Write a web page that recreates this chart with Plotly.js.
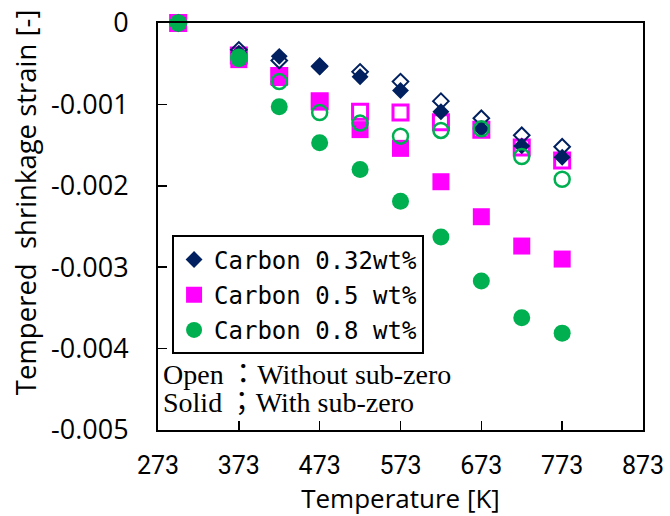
<!DOCTYPE html>
<html>
<head>
<meta charset="utf-8">
<script src="https://cdn.plot.ly/plotly-3.0.1.min.js"></script>
<style>html,body{margin:0;padding:0;background:#fff;}</style>
</head>
<body>
<div id="chart" style="width:670px;height:516px;"></div>
<script>
// Temperatures [K]
const temps = [298, 373, 423, 473, 523, 573, 623, 673, 723, 773];
// Carbon 0.32 wt%
const c032Open  = [0, -0.00033, -0.00046, -0.00053, -0.00060, -0.00072, -0.00096, -0.00117, -0.00138, -0.00152];
const c032Solid = [0, -0.00037, -0.00041, -0.00054, -0.00066, -0.00083, -0.00109, -0.00130, -0.00151, -0.00165];
// Carbon 0.5 wt%
const c05Open   = [0, -0.00040, -0.00065, -0.00096, -0.00109, -0.00110, -0.00122, -0.00131, -0.00153, -0.00169];
const c05Solid  = [0, -0.00045, -0.00067, -0.00097, -0.00131, -0.00154, -0.00195, -0.00238, -0.00274, -0.00290];
// Carbon 0.8 wt%
const c08Open   = [0, -0.00042, -0.00072, -0.00110, -0.00123, -0.00139, -0.00132, -0.00130, -0.00164, -0.00192];
const c08Solid  = [0, -0.00044, -0.00103, -0.00147, -0.00180, -0.00219, -0.00263, -0.00317, -0.00362, -0.00381];

const seriesNames = ['Carbon 0.32wt%', 'Carbon 0.5\u00a0wt%', 'Carbon 0.8\u00a0wt%'];
const yTickVals = [0, -0.001, -0.002, -0.003, -0.004, -0.005];
const yTickText = ['0', '-0.001', '-0.002', '-0.003', '-0.004', '-0.005'];
const xTickVals = [273, 373, 473, 573, 673, 773, 873];
const xTickText = ['273', '373', '473', '573', '673', '773', '873'];
const xTitle = 'Temperature [K]';
const yTitle = 'Tempered\u00a0 shrinkage strain [-]';
const noteOpen = 'Open\u2009：Without sub-zero';
const noteSolid = 'Solid\u2009；With sub-zero';

const NAVY = '#002060', MAG = '#FF00FF', GRN = '#00B050';

function openTrace(y, sym, color, size, lw, grp) {
  return {x: temps, y: y, type: 'scatter', mode: 'markers', showlegend: false,
    legendgroup: grp, cliponaxis: false, hoverinfo: 'x+y',
    marker: {symbol: sym, size: size, color: color, line: {color: color, width: lw}}};
}
function solidTrace(y, sym, color, size, name, grp, rank) {
  return {x: temps, y: y, type: 'scatter', mode: 'markers', name: name,
    legendgroup: grp, legendrank: rank, cliponaxis: false, hoverinfo: 'x+y',
    marker: {symbol: sym, size: size, color: color, line: {width: 0}}};
}

const data = [
  openTrace(c05Open, 'square-open', MAG, 15, 3, 'g2'),
  solidTrace(c05Solid, 'square', MAG, 17, seriesNames[1], 'g2', 2),
  openTrace(c032Open, 'diamond-open', NAVY, 12, 2, 'g1'),
  solidTrace(c032Solid, 'diamond', NAVY, 13, seriesNames[0], 'g1', 1),
  openTrace(c08Open, 'circle-open', GRN, 15, 2.5, 'g3'),
  solidTrace(c08Solid, 'circle', GRN, 17, seriesNames[2], 'g3', 3)
];

const sans = '"Open Sans", "Noto Sans", sans-serif';
const serif = '"Liberation Serif", "Times New Roman", "Noto Sans CJK JP", serif';
const layout = {
  width: 670, height: 516,
  margin: {l: 158, r: 27, t: 23, b: 86, pad: 0},
  paper_bgcolor: '#fff', plot_bgcolor: '#fff',
  showlegend: true,
  xaxis: {
    range: [273, 873], tickmode: 'array', tickvals: xTickVals, ticktext: xTickText,
    ticks: 'inside', ticklen: 9, tickwidth: 1.5, tickcolor: '#000',
    showline: true, linecolor: '#000', linewidth: 2, mirror: true,
    showgrid: false, zeroline: false,
    tickfont: {family: 'Roboto, sans-serif', size: 25, color: '#000'},
    ticklabelstandoff: 12,
    title: {text: xTitle, font: {family: sans, size: 26, color: '#000'}, standoff: 4}
  },
  yaxis: {
    range: [-0.005, 0], tickmode: 'array', tickvals: yTickVals, ticktext: yTickText,
    ticks: 'inside', ticklen: 9, tickwidth: 1.5, tickcolor: '#000',
    showline: true, linecolor: '#000', linewidth: 2, mirror: true,
    showgrid: false, zeroline: false,
    tickfont: {family: sans, size: 27, color: '#000'},
    ticklabelstandoff: 22
  },
  legend: {
    x: 0.029, y: 0.478, xanchor: 'left', yanchor: 'top',
    bgcolor: '#fff', bordercolor: '#000', borderwidth: 2,
    font: {family: '"DejaVu Sans Mono", monospace', size: 24, color: '#000'},
    traceorder: 'grouped', tracegroupgap: 1, itemsizing: 'trace'
  },
  annotations: [
    {text: yTitle, xref: 'paper', yref: 'paper', x: -0.2742, y: 0.5598,
     xanchor: 'center', yanchor: 'middle', textangle: -90, showarrow: false,
     font: {family: sans, size: 27.5, color: '#000'}},
    {text: noteOpen, xref: 'paper', yref: 'paper', x: 0.006, y: 0.1375,
     xanchor: 'left', yanchor: 'middle', showarrow: false,
     font: {family: serif, size: 28, color: '#000'}},
    {text: noteSolid, xref: 'paper', yref: 'paper', x: 0.006, y: 0.0665,
     xanchor: 'left', yanchor: 'middle', showarrow: false,
     font: {family: serif, size: 28, color: '#000'}}
  ]
};

Plotly.newPlot('chart', data, layout, {displayModeBar: false, staticPlot: true});
</script>
</body>
</html>
